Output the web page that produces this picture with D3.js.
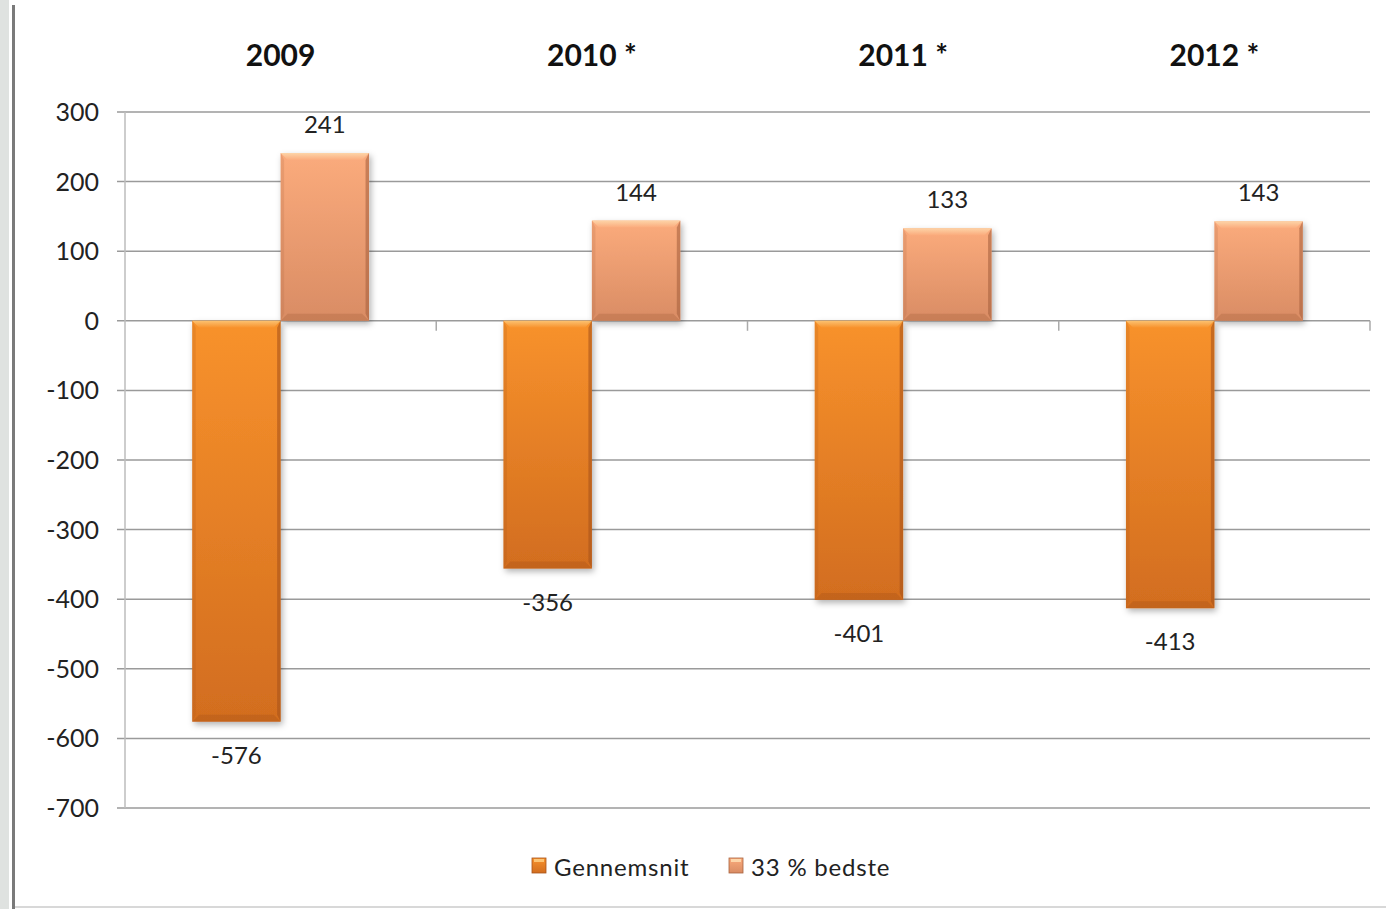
<!DOCTYPE html>
<html><head><meta charset="utf-8">
<script src="https://cdn.jsdelivr.net/npm/d3@7"></script>
<style>
html,body{margin:0;padding:0;background:#fff;}
text{font-family:Lato,"Open Sans",sans-serif;}
</style></head>
<body>
<svg id="c" width="1386" height="909"></svg>
<script>
const categories = ["2009", "2010 *", "2011 *", "2012 *"];
const seriesNames = ["Gennemsnit", "33 % bedste"];
const gennemsnit = [-576, -356, -401, -413];
const bedste = [241, 144, 133, 143];
const yTicks = [300, 200, 100, 0, -100, -200, -300, -400, -500, -600, -700];

const svg = d3.select("#c");
const W = 1386, H = 909;
const m = {left: 125, right: 16, top: 112, bottom: 101};

// frame decorations
svg.append("rect").attr("x",0).attr("y",0).attr("width",9).attr("height",H).attr("fill","#dfe2e0");
svg.append("rect").attr("x",12).attr("y",5).attr("width",3).attr("height",H-5).attr("fill","#7a7a7a");
svg.append("line").attr("x1",15).attr("x2",W).attr("y1",907).attr("y2",907).attr("stroke","#d8d8d8").attr("stroke-width",2);

const x0 = d3.scaleBand().domain(categories).range([m.left, W - m.right]).paddingInner(0).paddingOuter(0);
const x1 = d3.scaleBand().domain(seriesNames).range([0, x0.bandwidth()]).paddingInner(0).paddingOuter(0.76);
const y = d3.scaleLinear().domain([-700, 300]).range([H - m.bottom, m.top]);

const defs = svg.append("defs");
const cols = {
  "Gennemsnit": {top:"#f8922c", bot:"#d26d1f", hi:"#fcc474", dk:"#a8531a"},
  "33 % bedste": {top:"#fbab7c", bot:"#d98c64", hi:"#fdd6aa", dk:"#a8633f"}
};
seriesNames.forEach((s,i)=>{
  const g = defs.append("linearGradient").attr("id","g"+i).attr("x1",0).attr("y1",0).attr("x2",0).attr("y2",1);
  g.append("stop").attr("offset","0%").attr("stop-color",cols[s].top);
  g.append("stop").attr("offset","100%").attr("stop-color",cols[s].bot);
  const h = defs.append("linearGradient").attr("id","h"+i).attr("x1",0).attr("y1",0).attr("x2",0).attr("y2",1);
  h.append("stop").attr("offset","0%").attr("stop-color",cols[s].hi);
  h.append("stop").attr("offset","100%").attr("stop-color",cols[s].top);
});
const f = defs.append("filter").attr("id","sh").attr("x","-20%").attr("y","-20%").attr("width","140%").attr("height","140%");
f.append("feDropShadow").attr("dx",2).attr("dy",3).attr("stdDeviation",3).attr("flood-color","#000").attr("flood-opacity",0.3);

// gridlines
svg.append("g").selectAll("line").data(yTicks).join("line")
  .attr("x1", m.left - 8).attr("x2", W - m.right)
  .attr("y1", d=>y(d)).attr("y2", d=>y(d))
  .attr("stroke","#9a9a9a").attr("stroke-width",1.5);

// y axis line
svg.append("line").attr("x1",m.left).attr("x2",m.left).attr("y1",y(300)).attr("y2",y(-700))
  .attr("stroke","#bdbdbd").attr("stroke-width",1.5);

// y tick labels
svg.append("g").selectAll("text").data(yTicks).join("text")
  .attr("x", 99).attr("y", d=>y(d)+9)
  .attr("text-anchor","end").attr("font-size",25).attr("fill","#222")
  .text(d=>d);

// category tick marks at zero line
const bounds = categories.map(c=>x0(c)+x0.bandwidth());
svg.append("g").selectAll("line").data(bounds).join("line")
  .attr("x1",d=>d).attr("x2",d=>d).attr("y1",y(0)).attr("y2",y(0)+10)
  .attr("stroke","#aaa").attr("stroke-width",1.5);

// category labels at top
svg.append("g").selectAll("text").data(categories).join("text")
  .attr("x", c=>x0(c)+x0.bandwidth()/2).attr("y", 66)
  .attr("text-anchor","middle").attr("font-size",30).attr("font-weight","bold").attr("fill","#111")
  .text(c=>c);

// bars
const data = [];
categories.forEach((c,i)=>{
  data.push({c, s:seriesNames[0], v:gennemsnit[i], si:0});
  data.push({c, s:seriesNames[1], v:bedste[i], si:1});
});
const bw = x1.bandwidth();
const bars = svg.append("g").selectAll("g").data(data).join("g");
bars.each(function(d){
  const g = d3.select(this);
  const bx = x0(d.c) + x1(d.s);
  const by = y(Math.max(0,d.v)), bh = Math.abs(y(d.v)-y(0));
  g.append("rect").attr("x",bx).attr("y",by).attr("width",bw).attr("height",bh)
    .attr("fill","url(#g"+d.si+")").attr("filter","url(#sh)");
  const bev = 7, c = cols[d.s];
  g.append("path").attr("d",`M${bx},${by}L${bx+bw},${by}L${bx+bw-bev},${by+bev}L${bx+bev},${by+bev}Z`)
    .attr("fill","url(#h"+d.si+")").attr("opacity",0.95);
  g.append("path").attr("d",`M${bx+bw},${by}L${bx+bw},${by+bh}L${bx+bw-bev/2},${by+bh-bev}L${bx+bw-bev/2},${by+bev}Z`)
    .attr("fill",c.dk).attr("opacity",0.6);
  g.append("path").attr("d",`M${bx},${by+bh}L${bx+bw},${by+bh}L${bx+bw-bev},${by+bh-bev}L${bx+bev},${by+bh-bev}Z`)
    .attr("fill",c.dk).attr("opacity",0.35);
  g.append("path").attr("d",`M${bx},${by}L${bx},${by+bh}L${bx+bev/2},${by+bh-bev}L${bx+bev/2},${by+bev}Z`)
    .attr("fill",c.dk).attr("opacity",0.2);
});

// value labels
svg.append("g").selectAll("text").data(data).join("text")
  .attr("x", d=>x0(d.c)+x1(d.s)+bw/2)
  .attr("y", d=> d.v>=0 ? y(d.v)-20 : y(d.v)+42)
  .attr("text-anchor","middle").attr("font-size",24).attr("fill","#222")
  .text(d=>d.v);

// legend
const leg = svg.append("g");
const legX = [532, 729];
seriesNames.forEach((s,i)=>{
  leg.append("rect").attr("x",legX[i]).attr("y",858).attr("width",14).attr("height",15)
    .attr("fill","url(#g"+i+")").attr("stroke",cols[s].dk).attr("stroke-width",0.8);
  leg.append("rect").attr("x",legX[i]+2).attr("y",859).attr("width",10).attr("height",3).attr("fill",cols[s].hi);
  leg.append("text").attr("x",legX[i]+22).attr("y",876).attr("font-size",24).attr("letter-spacing",0.8).attr("fill","#222").text(s);
});
</script>
</body></html>
